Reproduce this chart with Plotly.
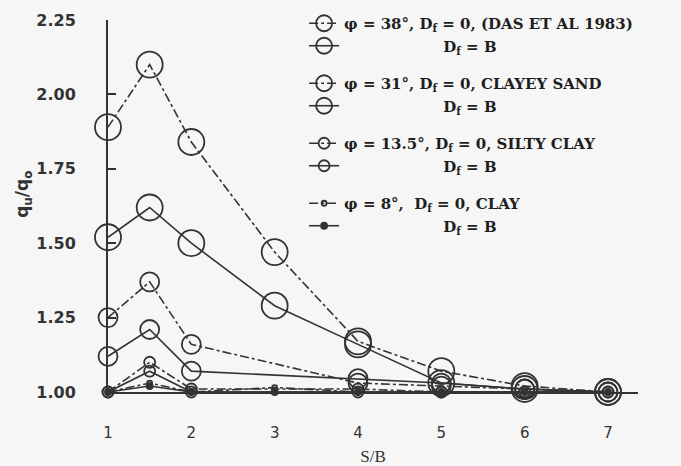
import plotly.graph_objects as go

# ---- data ----
sb_full = [1, 1.5, 2, 3, 4, 5, 6, 7]
sb_no3 = [1, 1.5, 2, 4, 5, 6, 7]

phi38_df0 = [1.89, 2.10, 1.84, 1.47, 1.17, 1.07, 1.02, 1.00]
phi38_dfb = [1.52, 1.62, 1.50, 1.29, 1.16, 1.03, 1.01, 1.00]
phi31_df0 = [1.25, 1.37, 1.16, 1.03, 1.02, 1.01, 1.00]
phi31_dfb = [1.12, 1.21, 1.07, 1.045, 1.03, 1.01, 1.00]
phi135_df0 = [1.00, 1.10, 1.01, 1.01, 1.00, 1.00, 1.00]
phi135_dfb = [1.00, 1.07, 1.00, 1.00, 1.00, 1.00, 1.00]
phi8_df0 = [1.00, 1.03, 1.00, 1.015, 1.00, 1.00, 1.00, 1.00]
phi8_dfb = [1.00, 1.02, 1.00, 1.00, 1.00, 1.00, 1.00, 1.00]

y_ticks = [1.00, 1.25, 1.50, 1.75, 2.00, 2.25]
y_ticktext = ["<b>1.00</b>", "<b>1.25</b>", "<b>1.50</b>", "<b>1.75</b>", "<b>2.00</b>", "<b>2.25</b>"]
x_ticks = [1, 2, 3, 4, 5, 6, 7]

indent = "\u00a0" * 19
names = [
    "φ = 38°, D<sub>f</sub> = 0, (DAS ET AL 1983)",
    indent + "D<sub>f</sub> = B",
    "φ = 31°, D<sub>f</sub> = 0, CLAYEY SAND",
    indent + "D<sub>f</sub> = B",
    "φ = 13.5°, D<sub>f</sub> = 0, SILTY CLAY",
    indent + "D<sub>f</sub> = B",
    "φ = 8°,\u00a0\u00a0D<sub>f</sub> = 0, CLAY",
    indent + "D<sub>f</sub> = B",
]

INK = "#333333"
BG = "#f6f6f6"

series = [
    (sb_full, phi38_df0, "dashdot", 26, "circle-open", "g38"),
    (sb_full, phi38_dfb, "solid", 26, "circle-open", "g38"),
    (sb_no3, phi31_df0, "dashdot", 19, "circle-open", "g31"),
    (sb_no3, phi31_dfb, "solid", 19, "circle-open", "g31"),
    (sb_no3, phi135_df0, "dashdot", 11, "circle-open", "g13"),
    (sb_no3, phi135_dfb, "solid", 11, "circle-open", "g13"),
    (sb_full, phi8_df0, "dashdot", 5, "circle-open", "g8"),
    (sb_full, phi8_dfb, "solid", 6, "circle", "g8"),
]

fig = go.Figure()
for (xs, ys, dash, size, sym, grp), nm in zip(series, names):
    fig.add_trace(go.Scatter(
        x=xs, y=ys, name=nm, mode="lines+markers", legendgroup=grp,
        line=dict(color=INK, width=1.6, dash=dash),
        marker=dict(symbol=sym, size=size, color=INK, line=dict(color=INK, width=1.8)),
        cliponaxis=False,
    ))

fig.update_layout(
    width=681, height=466,
    margin=dict(l=108, r=43, t=20, b=74, autoexpand=False),
    paper_bgcolor=BG, plot_bgcolor=BG,
    font=dict(family="DejaVu Sans", color="#222"),
    showlegend=True,
    legend=dict(
        x=0.37, y=1.035, xanchor="left", yanchor="top",
        bgcolor="rgba(0,0,0,0)", traceorder="grouped", tracegroupgap=15,
        font=dict(family="DejaVu Serif", size=15, color="#1e1e1e", weight="bold"),
        itemsizing="trace", maxheight=440,
    ),
    xaxis=dict(
        range=[1, 7.36], tickvals=x_ticks, showgrid=False, zeroline=False,
        showline=True, linecolor=INK, linewidth=2, ticks="",
        tickfont=dict(family="DejaVu Sans", size=15, color="#333"),
        ticklabelstandoff=26, automargin=False,
        title=dict(text="S/B", font=dict(family="Liberation Serif", size=17, color="#333"), standoff=10),
    ),
    yaxis=dict(
        range=[1.0, 2.25], tickvals=y_ticks, ticktext=y_ticktext, showgrid=False,
        zeroline=False, showline=True, linecolor=INK, linewidth=2,
        ticks="inside", ticklen=8, tickwidth=1.5, tickcolor=INK,
        tickfont=dict(family="DejaVu Sans", size=16, color="#333"),
        ticklabelstandoff=27, automargin=False,
    ),
    annotations=[dict(
        text="<b>q<sub>u</sub>/q<sub>o</sub></b>", textangle=-90,
        xref="paper", yref="paper", x=0, y=0.53, xanchor="center", yanchor="middle",
        xshift=-84, showarrow=False, font=dict(family="DejaVu Sans", size=17, color="#333"),
    )],
)

fig.write_html("out.html")
